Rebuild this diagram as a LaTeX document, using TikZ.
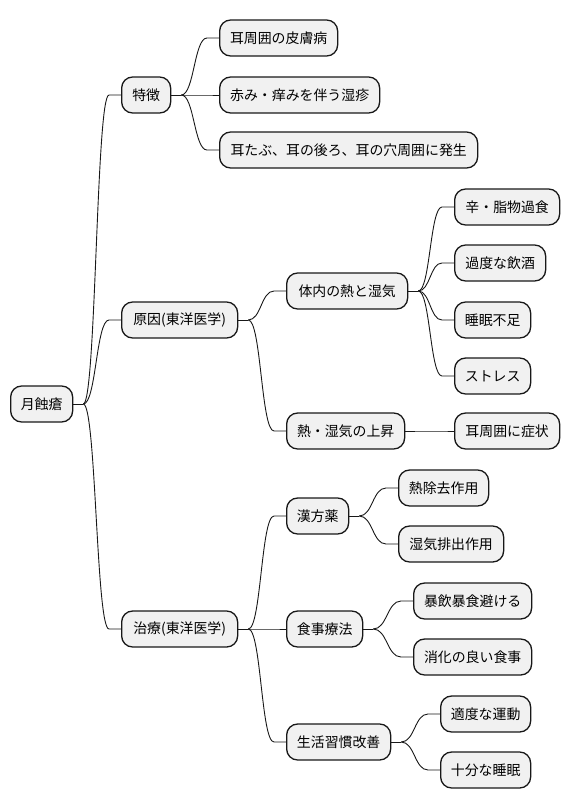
\documentclass[tikz,border=0pt]{standalone}
\usepackage{fontspec}
\newfontfamily\cjk{Noto Sans CJK JP}
\usetikzlibrary{calc}
\definecolor{boxfill}{HTML}{F1F1F1}
\definecolor{boxline}{HTML}{181818}
\tikzset{
  mm/.style={draw=boxline, fill=boxfill, line width=1.3pt, rounded corners=11pt,
    anchor=west, minimum height=36pt, inner xsep=0pt, inner ysep=0pt,
    font=\cjk\fontsize{13.9}{16}\selectfont, text=black},
  connline/.style={draw=boxline, line width=0.9pt}
}
\newcommand\mmnode[5]{\node[mm, minimum width={#3-#2}] (#1) at (#2,-#4) {#5};}
\newcommand\mmlink[2]{%
  \draw[connline] (#1.east) -- ++(10,0) coordinate (la);
  \path (#2.west) ++(-12,0) coordinate (lb);
  \draw[connline] let \p1=(la), \p2=(lb) in
    (la) .. controls ({(\x1+\x2)/2},\y1) and ({(\x1+\x2)/2},\y2) .. (lb) -- (#2.west);}
\begin{document}
\begin{tikzpicture}[x=1pt,y=1pt]
\useasboundingbox (0,0) rectangle (569,-809);
\mmnode{root}{10}{72}{404}{月蝕瘡}
\mmnode{a}{121}{170}{95}{特徴}
\mmnode{a1}{219}{337}{38}{耳周囲の皮膚病}
\mmnode{a2}{219}{379}{95}{赤み・痒みを伴う湿疹}
\mmnode{a3}{219}{477}{150}{耳たぶ、耳の後ろ、耳の穴周囲に発生}
\mmnode{b}{121}{237}{320}{原因(東洋医学)}
\mmnode{b1}{286}{407}{291}{体内の熱と湿気}
\mmnode{b11}{454}{559}{207}{辛・脂物過食}
\mmnode{b12}{454}{545}{263}{過度な飲酒}
\mmnode{b13}{454}{530}{320}{睡眠不足}
\mmnode{b14}{454}{530}{376}{ストレス}
\mmnode{b2}{286}{404}{431}{熱・湿気の上昇}
\mmnode{b21}{454}{559}{431}{耳周囲に症状}
\mmnode{c}{121}{237}{629}{治療(東洋医学)}
\mmnode{c1}{286}{348}{516}{漢方薬}
\mmnode{c11}{398}{488}{488}{熱除去作用}
\mmnode{c12}{398}{503}{544}{湿気排出作用}
\mmnode{c2}{286}{362}{629}{食事療法}
\mmnode{c21}{413}{531}{601}{暴飲暴食避ける}
\mmnode{c22}{413}{531}{657}{消化の良い食事}
\mmnode{c3}{286}{390}{742}{生活習慣改善}
\mmnode{c31}{440}{530}{714}{適度な運動}
\mmnode{c32}{440}{530}{770}{十分な睡眠}
\mmlink{root}{a}\mmlink{root}{b}\mmlink{root}{c}
\mmlink{a}{a1}\mmlink{a}{a2}\mmlink{a}{a3}
\mmlink{b}{b1}\mmlink{b}{b2}
\mmlink{b1}{b11}\mmlink{b1}{b12}\mmlink{b1}{b13}\mmlink{b1}{b14}
\mmlink{b2}{b21}
\mmlink{c}{c1}\mmlink{c}{c2}\mmlink{c}{c3}
\mmlink{c1}{c11}\mmlink{c1}{c12}
\mmlink{c2}{c21}\mmlink{c2}{c22}
\mmlink{c3}{c31}\mmlink{c3}{c32}
\end{tikzpicture}
\end{document}
